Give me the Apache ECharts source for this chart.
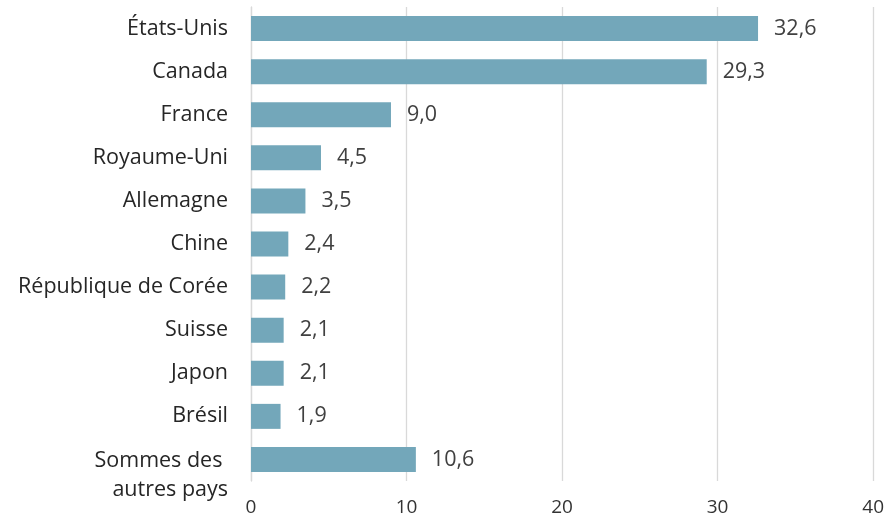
<!DOCTYPE html>
<html><head><meta charset="utf-8">
<script src="https://cdn.jsdelivr.net/npm/echarts@6/dist/echarts.min.js"></script>
<style>html,body{margin:0;padding:0;background:#fff}#c{width:887px;height:517px}</style>
</head><body><div id="c"></div>
<script>
const categories = ['États-Unis','Canada','France','Royaume-Uni','Allemagne','Chine','République de Corée','Suisse','Japon','Brésil','Sommes des \nautres pays'];
const values = [32.6,29.3,9.0,4.5,3.5,2.4,2.2,2.1,2.1,1.9,10.6];
const xTicks = [0,10,20,30,40];

const chart = echarts.init(document.getElementById('c'));
const font = '"Open Sans", sans-serif';
chart.setOption({
  animation:false,
  grid:{left:251,right:12,top:7,bottom:33,containLabel:false},
  xAxis:{type:'value',min:xTicks[0],max:xTicks[xTicks.length-1],interval:10,
    axisLine:{show:false},axisTick:{show:false},
    splitLine:{lineStyle:{color:'#d9d9d9',width:1.3}},
    axisLabel:{fontFamily:font,fontSize:19,color:'#333',margin:17}},
  yAxis:{type:'category',inverse:true,data:categories,
    axisLine:{show:true,lineStyle:{color:'#d9d9d9',width:1.3}},axisTick:{show:false},
    axisLabel:{interval:0,hideOverlap:false,fontFamily:font,fontSize:21.5,color:'#262626',margin:23,align:'right',
      formatter:(v)=> v.indexOf('\n')>=0 ? '{m|'+v+'}' : v,
      rich:{m:{fontFamily:font,fontSize:21.5,color:'#262626',lineHeight:29,padding:[32,0,0,0],align:'right'}}}},
  series:[{type:'bar',data:values,barCategoryGap:'42%',
    itemStyle:{color:'#73a7ba'},
    label:{show:true,position:'right',distance:16,fontFamily:font,fontSize:21.5,color:'#404040',
      formatter:p=>p.value.toFixed(1).replace('.',',')}}]
});
</script></body></html>
